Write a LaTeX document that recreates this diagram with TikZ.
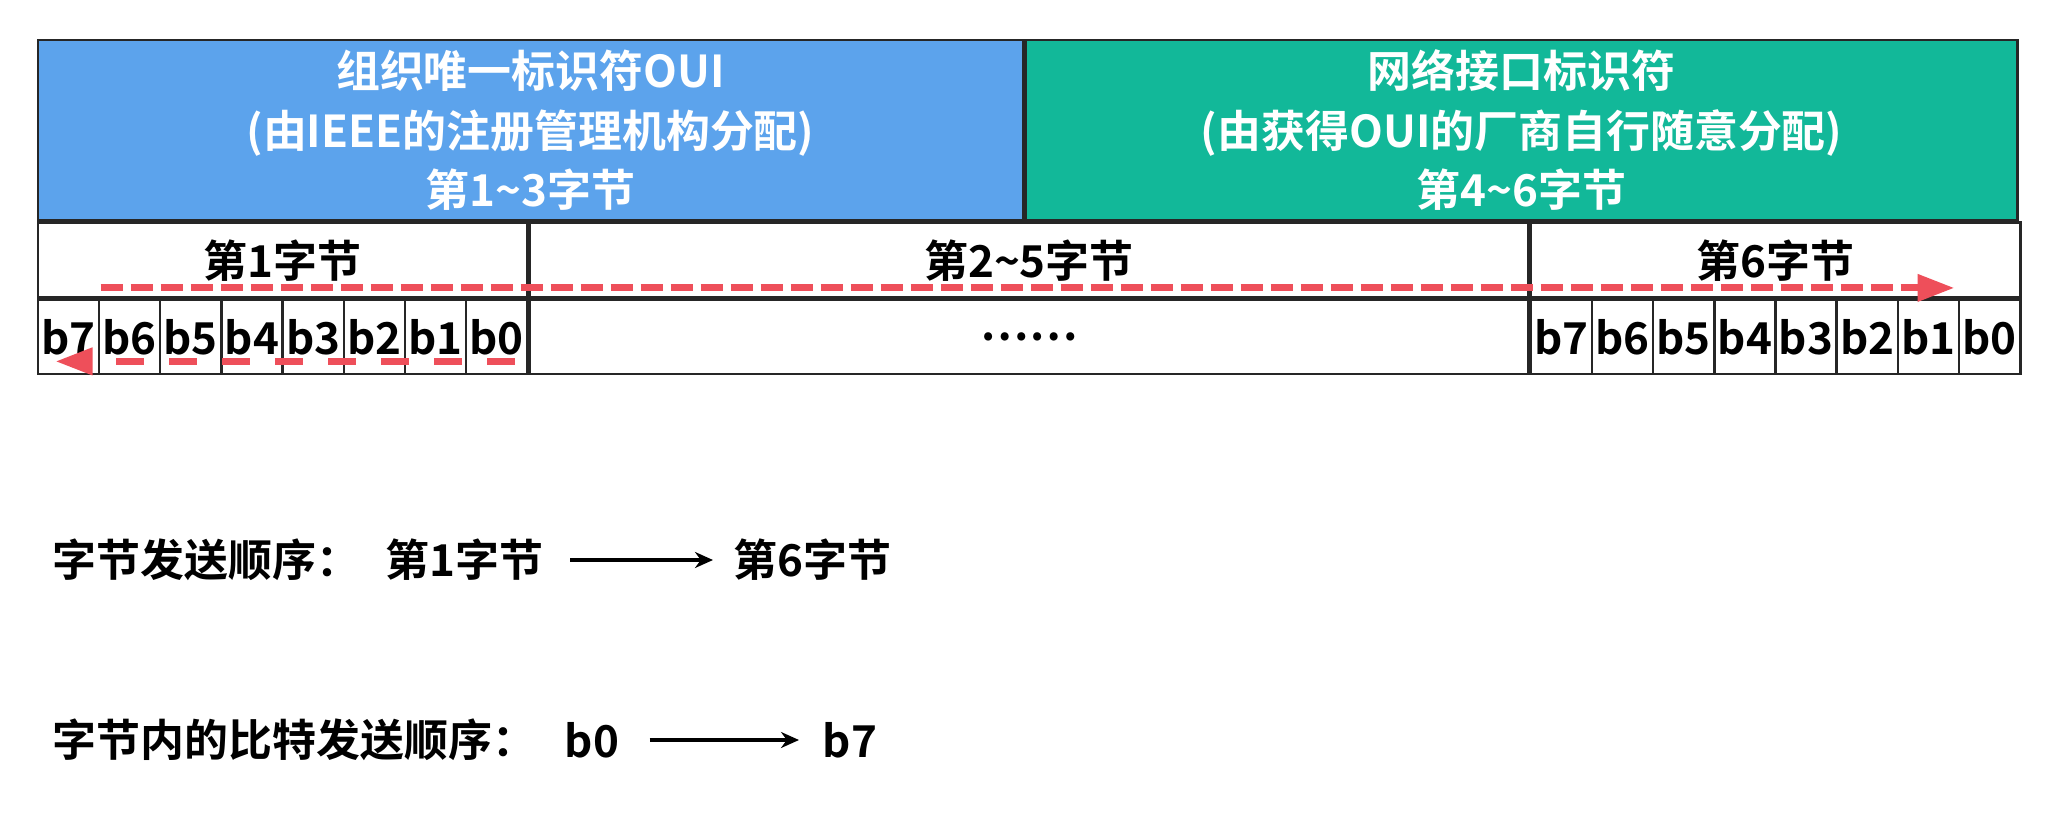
\documentclass[tikz,border=0pt]{standalone}
\usepackage{fontspec}
\setmainfont{Noto Sans CJK SC}[BoldFont={Noto Sans CJK SC Bold}]
\usetikzlibrary{arrows.meta, positioning}
\definecolor{ouiblue}{HTML}{5CA3EC}
\definecolor{nicgreen}{HTML}{12B899}
\definecolor{flowred}{HTML}{EE4F5A}

\begin{document}
\begin{tikzpicture}[
    font=\fontsize{12.5}{17}\selectfont\bfseries,
    field/.style={rectangle, draw=black!85, line width=0.7pt, inner sep=0pt, minimum height=1.8cm, align=center, text=white},
    cell/.style={rectangle, draw=black!85, line width=0.7pt, inner sep=0pt, minimum height=0.75cm},
    bit/.style={cell, minimum width=0.612cm, minimum height=0.74cm},
    txt/.style={inner sep=0pt, anchor=west},
    byteflow/.style={draw=flowred, line width=2pt, dash pattern=on 0.22cm off 0.08cm, -{Triangle[length=3.7mm, width=2.6mm]}},
    >={Stealth[length=1.8mm, width=1.6mm]}
]
\useasboundingbox (0,0) rectangle (20.47,8.31);
\fill[white] (0,0) rectangle (20.47,8.31);
\node[field, fill=ouiblue, minimum width=9.855cm, anchor=north west] (oui) at (0.365,7.92) {组织唯一标识符OUI\\(由IEEE的注册管理机构分配)\\第1\textasciitilde3字节};
\node[field, fill=nicgreen, minimum width=9.92cm, right=0pt of oui] (nic) {网络接口标识符\\(由获得OUI的厂商自行随意分配)\\第4\textasciitilde6字节};
\node[cell, minimum width=4.896cm, anchor=north west] (byte1) at (oui.south west) {第1字节};
\node[cell, minimum width=9.984cm, right=0pt of byte1] (byte25) {第2\textasciitilde5字节};
\node[cell, minimum width=4.896cm, right=0pt of byte25] (byte6) {第6字节};
\foreach \b [count=\i from 0] in {7,6,...,0} {
    \node[bit, anchor=north west] (a\b) at ([xshift=\i*0.612cm]byte1.south west) {b\b};
    \node[bit, anchor=north west] (f\b) at ([xshift=\i*0.612cm]byte6.south west) {b\b};
}
\node[cell, minimum width=9.984cm, minimum height=0.74cm, anchor=north west] (dots) at (byte25.south west) {……};
\draw[byteflow] ([shift={(0.64,0.11)}]byte1.south west) -- ([shift={(-0.67,0.11)}]byte6.south east);
\draw[byteflow, dash pattern=on 0.28cm off 0.25cm] ([shift={(-0.14,0.14)}]a0.south east) -- ([shift={(0.19,0.14)}]a7.south west);

\node[txt] (byteorder) at (0.52,2.71) {字节发送顺序：};
\node[txt] (first) at (3.85,2.71) {第1字节};
\node[txt] (sixth) at (7.33,2.71) {第6字节};
\draw[->, line width=1.1pt, shorten <=0.26cm, shorten >=0.2cm] (first) -- (sixth);
\node[txt] (bitorder) at (0.52,0.91) {字节内的比特发送顺序：};
\node[txt] (lowbit) at (5.64,0.91) {b0};
\node[txt] (highbit) at (8.22,0.91) {b7};
\draw[->, line width=1.1pt, shorten <=0.3cm, shorten >=0.23cm] (lowbit) -- (highbit);
\end{tikzpicture}
\end{document}
